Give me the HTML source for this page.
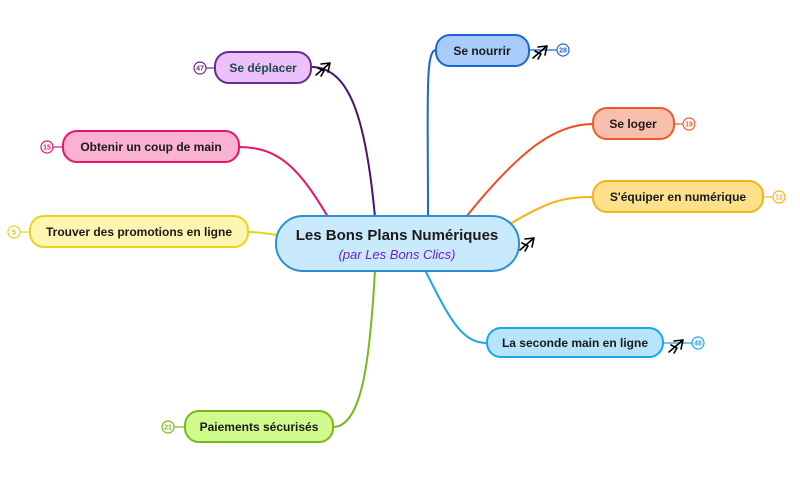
<!DOCTYPE html>
<html><head><meta charset="utf-8"><style>
html,body{margin:0;padding:0;background:#fff;width:800px;height:482px;overflow:hidden}
svg text{font-family:"Liberation Sans",sans-serif;font-weight:bold;font-size:12px}
</style></head><body>
<svg width="800" height="482" xmlns="http://www.w3.org/2000/svg">
<defs>
<path id="ar" d="M0,6 L14,-6 M14,-6 L5,-5 M14,-6 L12,3 M2,-1 L8,2 L5,7" fill="none" stroke="#000" stroke-width="1.6" stroke-linejoin="round" stroke-linecap="round"/>
</defs>
<g fill="none" stroke-width="2">
<path d="M375,217 C366,120 350,67 311,67" stroke="#4a1272"/>
<path d="M428,217 C428,100 425,50 436,50" stroke="#1a66d4"/>
<path d="M466,217 C520,150 555,124 593,124" stroke="#f04a18"/>
<path d="M510,224 C550,200 565,197 593,197" stroke="#f8b414"/>
<path d="M425,270 C450,320 462,343 487,343" stroke="#1aa6e8"/>
<path d="M375,270 C370,360 362,427 333,427" stroke="#7ab81a"/>
<path d="M328,217 C300,170 280,147 239,147" stroke="#e8146c"/>
<path d="M277,235 C265,233 258,232 248,232" stroke="#e8d41a"/>
</g>
<g stroke-width="1.2">
<line x1="206" y1="68" x2="215" y2="68" stroke="#6b2a8a"/><circle cx="200" cy="68" r="6" fill="#fff" stroke="#6b2a8a"/>
<line x1="529" y1="50" x2="557" y2="50" stroke="#1a66d4"/><circle cx="563" cy="50" r="6" fill="#fff" stroke="#1a66d4"/>
<line x1="674" y1="124" x2="683" y2="124" stroke="#f05a28"/><circle cx="689" cy="124" r="6" fill="#fff" stroke="#f05a28"/>
<line x1="763" y1="197" x2="773" y2="197" stroke="#f5b21a"/><circle cx="779" cy="197" r="6" fill="#fff" stroke="#f5b21a"/>
<line x1="663" y1="343" x2="692" y2="343" stroke="#1aa6e8"/><circle cx="698" cy="343" r="6" fill="#fff" stroke="#1aa6e8"/>
<line x1="53" y1="147" x2="63" y2="147" stroke="#e8146c"/><circle cx="47" cy="147" r="6" fill="#fff" stroke="#e8146c"/>
<line x1="20" y1="232" x2="30" y2="232" stroke="#e8d41a"/><circle cx="14" cy="232" r="6" fill="#fff" stroke="#e8d41a"/>
<line x1="174" y1="427" x2="185" y2="427" stroke="#7ab81a"/><circle cx="168" cy="427" r="6" fill="#fff" stroke="#7ab81a"/>
</g>
<g text-anchor="middle">
<text x="200" y="70.5" fill="#6b2a8a" style="font-size:7px">47</text>
<text x="563" y="52.5" fill="#1a66d4" style="font-size:7px">28</text>
<text x="689" y="126.5" fill="#f05a28" style="font-size:7px">19</text>
<text x="779" y="199.5" fill="#f5b21a" style="font-size:7px">12</text>
<text x="698" y="345.5" fill="#1aa6e8" style="font-size:7px">48</text>
<text x="47" y="149.5" fill="#e8146c" style="font-size:7px">15</text>
<text x="14" y="234.5" fill="#d4c01a" style="font-size:7px">5</text>
<text x="168" y="429.5" fill="#7ab81a" style="font-size:7px">21</text>
</g>
<g stroke-width="2">
<rect x="276" y="216" width="243" height="55" rx="27" fill="#c9eafc" stroke="#2a8fd6"/>
<rect x="215" y="52" width="96" height="31" rx="14" fill="#ebc0fb" stroke="#6b2a8a"/>
<rect x="436" y="35" width="93" height="31" rx="14" fill="#a8cbf9" stroke="#1a66d4"/>
<rect x="593" y="108" width="81" height="31" rx="14" fill="#f8bfad" stroke="#f05a28"/>
<rect x="593" y="181" width="170" height="31" rx="14" fill="#fde08c" stroke="#f5b21a"/>
<rect x="487" y="328" width="176" height="29" rx="14" fill="#b6e4fb" stroke="#1aa6e8"/>
<rect x="63" y="131" width="176" height="31" rx="14" fill="#fbb1d1" stroke="#e8146c"/>
<rect x="30" y="216" width="218" height="31" rx="14" fill="#fdf6b0" stroke="#e8d41a"/>
<rect x="185" y="411" width="148" height="31" rx="14" fill="#d0fa8c" stroke="#7ab81a"/>
</g>
<g text-anchor="middle" fill="#1a1a1a">
<text x="397" y="240" style="font-size:15px">Les Bons Plans Numériques</text>
<text x="397" y="259" style="font-size:13px;font-weight:normal;font-style:italic" fill="#6a22c8">(par Les Bons Clics)</text>
<text x="263" y="72" fill="#1e4a4a">Se déplacer</text>
<text x="482" y="55">Se nourrir</text>
<text x="633" y="128">Se loger</text>
<text x="678" y="201">S'équiper en numérique</text>
<text x="575" y="347">La seconde main en ligne</text>
<text x="151" y="151">Obtenir un coup de main</text>
<text x="139" y="236">Trouver des promotions en ligne</text>
<text x="259" y="431">Paiements sécurisés</text>
</g>
<use href="#ar" x="316" y="69"/>
<use href="#ar" x="533" y="52"/>
<use href="#ar" x="520" y="244"/>
<use href="#ar" x="669" y="346"/>
</svg>
</body></html>
